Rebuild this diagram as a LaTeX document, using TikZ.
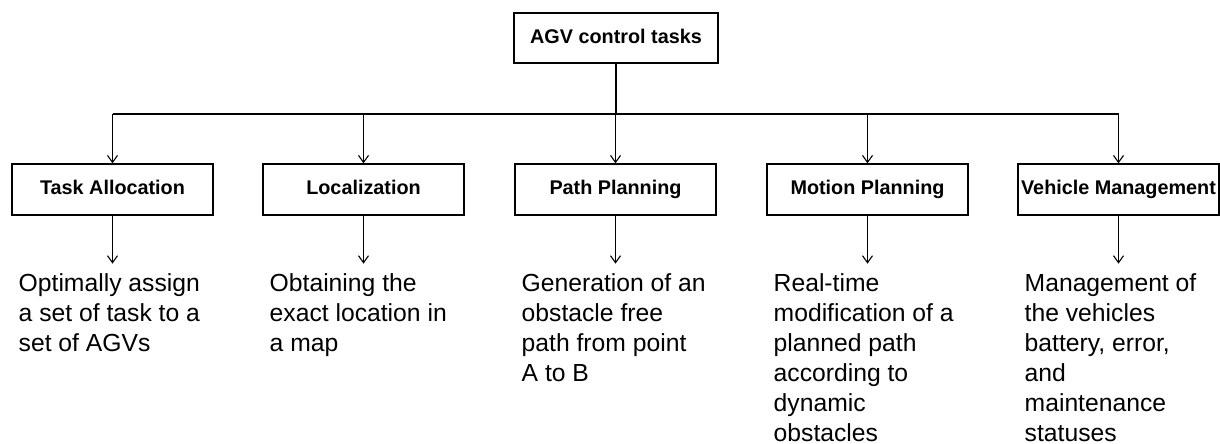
\documentclass[tikz,border=0pt]{standalone}
\usepackage{fontspec}
\setmainfont{Liberation Sans}
\usetikzlibrary{arrows.meta}
\tikzset{
  taskbox/.style={draw, line width=1.3pt, minimum width=201pt, minimum height=51pt,
    inner sep=0pt, text height=14.4pt, text depth=4.2pt,
    font=\bfseries\fontsize{19.8}{23}\selectfont},
  rootbox/.style={taskbox, minimum width=204pt, minimum height=50pt},
  desc/.style={anchor=north west, align=left, inner sep=0pt,
    font=\fontsize{24.7}{30}\selectfont},
  link/.style={line width=1.3pt},
  arr/.style={link, -{Straight Barb[length=7pt,width=10pt,line width=1.1pt]}}
}
\begin{document}
\begin{tikzpicture}[x=1pt,y=1pt]
\useasboundingbox (0,0) rectangle (1220,444);

\node[rootbox] (top) at (616,406) {AGV control tasks};

\node[taskbox] (b1) at (112.5,254.5) {Task Allocation};
\node[taskbox] (b2) at (363.5,254.5) {Localization};
\node[taskbox] (b3) at (615.5,254.5) {Path Planning};
\node[taskbox] (b4) at (867.5,254.5) {Motion Planning};
\node[taskbox] (b5) at (1118.5,254.5) {Vehicle Management};

\coordinate (j) at (616,330);
\draw[link] (top.south) -- (top.south |- j);
\draw[link] (b1.north |- j) -- (b5.north |- j);
\foreach \b in {b1,b2,b3,b4,b5}
  \draw[arr] (\b.north |- j) -- (\b.north);

% descriptions: first baseline about 18pt below the top edge
\node[desc] (t1) at (18.5,170.5) {Optimally assign\\a set of task to a\\set of AGVs};
\node[desc] (t2) at (269.5,170.5) {Obtaining the\\exact location in\\a map};
\node[desc] (t3) at (521.5,170.5) {Generation of an\\obstacle free\\path from point\\A to B};
\node[desc] (t4) at (773.5,170.5) {Real-time\\modification of a\\planned path\\according to\\dynamic\\obstacles};
\node[desc] (t5) at (1024.5,170.5) {Management of\\the vehicles\\battery, error,\\and\\maintenance\\statuses};

\foreach \i in {1,...,5}
  \draw[arr] (b\i.south) -- ++(0,-48);
\end{tikzpicture}
\end{document}
